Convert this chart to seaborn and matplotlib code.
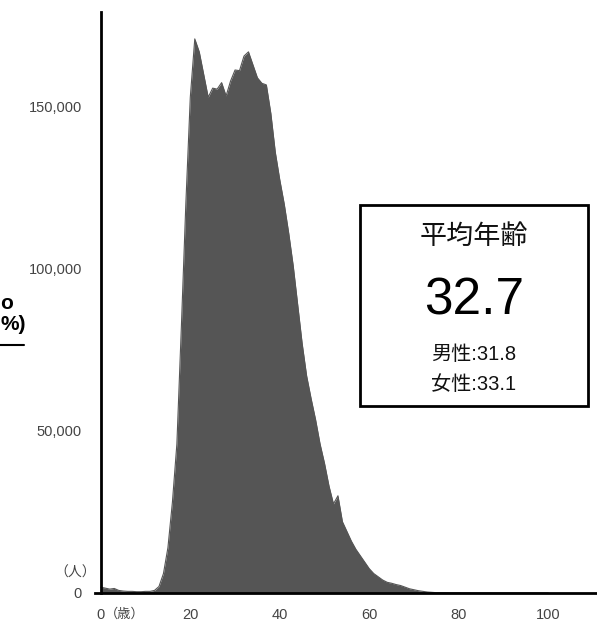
import numpy as np
import pandas as pd
import matplotlib
matplotlib.use("Agg")
import matplotlib.pyplot as plt
import seaborn as sns
from matplotlib.patches import Rectangle

# ---- data ----
ages = list(range(0, 101))
counts_k = [
    1.8, 1.5, 1.2, 1.4, 0.8, 0.6, 0.5, 0.5, 0.4, 0.4,      # 0-9
    0.5, 0.5, 0.8, 2.0, 6.0, 14.0, 28.0, 46.0, 82.0, 120.0,  # 10-19
    153.0, 171.0, 167.0, 160.0, 153.0, 155.8, 155.5, 157.5, 153.4, 158.0,  # 20-29
    161.4, 161.2, 165.7, 167.0, 163.0, 159.0, 157.3, 156.8, 148.0, 136.0,  # 30-39
    127.5, 120.0, 111.0, 101.0, 89.0, 77.0, 67.0, 60.0, 53.5, 46.0,       # 40-49
    40.0, 33.0, 27.5, 30.0, 22.0, 19.0, 16.0, 13.5, 11.5, 9.5,            # 50-59
    7.5, 6.0, 5.0, 4.0, 3.3, 3.0, 2.6, 2.3, 1.8, 1.3,                     # 60-69
    1.0, 0.7, 0.5, 0.3, 0.2, 0.1, 0.1, 0.1, 0.05, 0.05,                   # 70-79
    0.05, 0.03, 0.03, 0.02, 0.02, 0.01, 0.01, 0.01, 0.0, 0.0,             # 80-89
    0.0, 0.0, 0.0, 0.0, 0.0, 0.0, 0.0, 0.0, 0.0, 0.0, 0.0,                # 90-100
]
counts = [c * 1000 for c in counts_k]

x_ticks = [0, 20, 40, 60, 80, 100]
y_ticks = [0, 50000, 100000, 150000]
y_tick_labels = ["0", "50,000", "100,000", "150,000"]

box_title = "平均年齢"
box_value = "32.7"
box_male = "男性:31.8"
box_female = "女性:33.1"

df = pd.DataFrame({"age": ages, "count": counts})

sns.set_theme(style="white")
plt.rcParams["font.family"] = ["Liberation Sans", "Noto Sans CJK JP", "DejaVu Sans"]

fig = plt.figure(figsize=(5.97, 6.23), dpi=100)
ax = fig.add_axes([95 / 597, 30 / 623, (597 - 95) / 597, (593 - 12) / 623])

fill_color = "#555555"
sns.lineplot(data=df, x="age", y="count", ax=ax, color=fill_color, linewidth=0.8)
ax.fill_between(df["age"], df["count"], color=fill_color, linewidth=0)

ax.set_xlim(-1.3, 110.9)
ax.set_ylim(0, 179300)
ax.set_xlabel("")
ax.set_ylabel("")

for s in ["top", "right"]:
    ax.spines[s].set_visible(False)
ax.spines["left"].set_position(("data", 0))
for s in ["left", "bottom"]:
    ax.spines[s].set_color("black")
    ax.spines[s].set_linewidth(2)

ax.set_xticks(x_ticks)
ax.set_xticklabels([str(t) for t in x_ticks])
ax.set_yticks(y_ticks)
ax.set_yticklabels(y_tick_labels)
ax.tick_params(axis="both", which="both", direction="out", length=4, width=2,
               color="black", labelcolor="#444444", labelsize=10.5)
ax.tick_params(axis="y", pad=9.5)
ax.tick_params(axis="x", pad=6.5)
ax.grid(False)

# unit labels
fig.text(75.5 / 597, 1 - 573 / 623, "（人）", ha="center", va="center",
         fontsize=10, color="#444444")
fig.text(104.5 / 597, 1 - 614 / 623, "（歳）", ha="left", va="center",
         fontsize=9.5, color="#444444")

# fragment at the far left edge
fig.text(0.5 / 597, 1 - 325 / 623, "%)", ha="left", va="center",
         fontsize=15, fontweight="bold", color="black")
fig.text(0.5 / 597, 1 - 303 / 623, "o", ha="left", va="center",
         fontsize=15, fontweight="bold", color="black")
fig.add_artist(plt.Line2D([0, 24 / 597], [1 - 345 / 623, 1 - 345 / 623],
                          color="black", linewidth=1.5, transform=fig.transFigure))

# summary box
fig.add_artist(Rectangle((360 / 597, 1 - 406 / 623), 228 / 597, 201 / 623,
                         transform=fig.transFigure, fill=True, facecolor="white",
                         edgecolor="black", linewidth=2))
cx = 474 / 597
fig.text(cx, 1 - 237 / 623, box_title, ha="center", va="center", fontsize=19.5, color="#111111")
fig.text(cx, 1 - 301 / 623, box_value, ha="center", va="center", fontsize=37, color="black")
fig.text(cx, 1 - 354 / 623, box_male, ha="center", va="center", fontsize=14.5, color="#111111")
fig.text(cx, 1 - 385 / 623, box_female, ha="center", va="center", fontsize=14.5, color="#111111")

fig.savefig("out.png", dpi=100)
